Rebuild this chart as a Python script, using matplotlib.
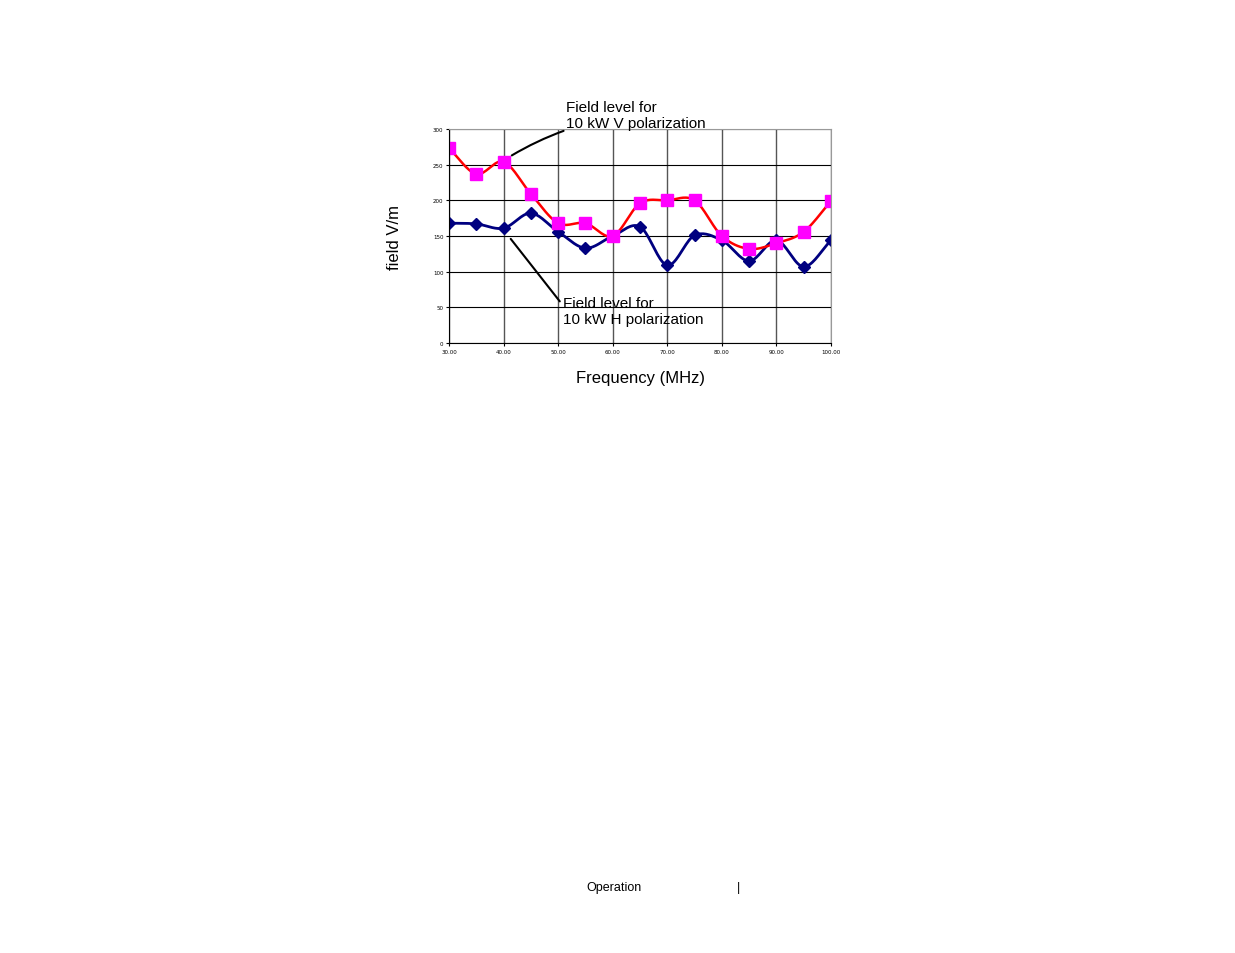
import matplotlib.pyplot as plt
import numpy as np

freq = [30, 35, 40, 45, 50, 55, 60, 65, 70, 75, 80, 85, 90, 95, 100]
v_pol = [273, 237, 254, 209, 168, 168, 150, 196, 200, 200, 150, 132, 140, 156, 199]
h_pol = [168, 167, 161, 182, 156, 133, 150, 163, 109, 151, 144, 115, 144, 107, 144]
x_ticks = [30, 40, 50, 60, 70, 80, 90, 100]
y_ticks = [0, 50, 100, 150, 200, 250, 300]


def smooth(x, y, n=20):
    # catmull-rom curve through the points, like the spreadsheet's smoothed line
    x = np.asarray(x, float)
    y = np.asarray(y, float)
    px = np.concatenate([[2 * x[0] - x[1]], x, [2 * x[-1] - x[-2]]])
    py = np.concatenate([[2 * y[0] - y[1]], y, [2 * y[-1] - y[-2]]])
    t = np.linspace(0, 1, n)
    xs, ys = [], []
    for i in range(1, len(px) - 2):
        for p, out in ((px, xs), (py, ys)):
            p0, p1, p2, p3 = p[i - 1], p[i], p[i + 1], p[i + 2]
            out.extend(0.5 * (2 * p1 + (-p0 + p2) * t
                              + (2 * p0 - 5 * p1 + 4 * p2 - p3) * t ** 2
                              + (-p0 + 3 * p1 - 3 * p2 + p3) * t ** 3))
    return xs, ys


fig = plt.figure(figsize=(12.35, 9.54), dpi=100)
ax = fig.add_axes([0.3636, 0.6394, 0.3093, 0.2243])

ax.plot(*smooth(freq, h_pol), color='#000080', lw=2)
ax.plot(freq, h_pol, 'D', color='#000080', ms=6, ls='none')
ax.plot(*smooth(freq, v_pol), color='red', lw=1.8)
ax.plot(freq, v_pol, 's', color='#ff00ff', ms=8, ls='none')

ax.set_xlim(30, 100)
ax.set_ylim(0, 300)
ax.set_xticks(x_ticks)
ax.set_xticklabels([f'{v:.2f}' for v in x_ticks])
ax.set_yticks(y_ticks)
ax.tick_params(labelsize=4, length=2, pad=2)
ax.grid(axis='y', color='black', lw=0.8)
ax.grid(axis='x', color='#555555', lw=1)
for s in ['top', 'right']:
    ax.spines[s].set_color('#999999')
ax.set_axisbelow(True)

ax.set_xlabel('Frequency (MHz)', fontsize=12, family='Liberation Sans', labelpad=12)
ax.set_ylabel('field V/m', fontsize=12, family='Liberation Sans', labelpad=22)

ax.annotate('Field level for\n10 kW V polarization', xy=(41.5, 263), xytext=(51.5, 303),
            fontsize=11, family='Liberation Sans', annotation_clip=False,
            arrowprops=dict(arrowstyle='-', color='black', lw=1.5,
                            connectionstyle='arc3,rad=0.05', shrinkA=0, shrinkB=0,
                            relpos=(0, 0)))
ax.annotate('Field level for\n10 kW H polarization', xy=(41.3, 146), xytext=(50.8, 28),
            fontsize=11, family='Liberation Sans',
            arrowprops=dict(arrowstyle='-', color='black', lw=1.5,
                            shrinkA=0, shrinkB=0, relpos=(0, 0.7)))

fig.text(0.475, 0.066, 'Operation', fontsize=9, family='Liberation Sans')
fig.text(0.597, 0.066, '|', fontsize=9, family='Liberation Sans')

fig.savefig('out.png')
